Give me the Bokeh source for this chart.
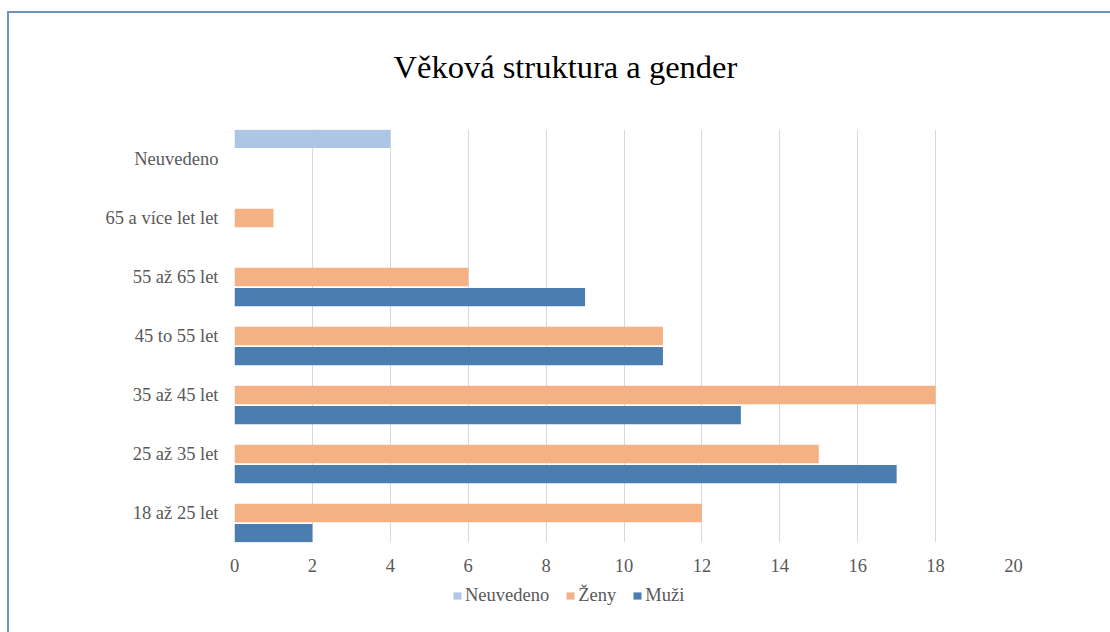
from bokeh.plotting import figure
from bokeh.layouts import column
from bokeh.models import (FactorRange, Range1d, ColumnDataSource, Legend, LegendItem,
                          FixedTicker, Title)
from bokeh.transform import dodge
from bokeh.embed import file_html
from bokeh.resources import INLINE

categories = ["18 až 25 let", "25 až 35 let", "35 až 45 let", "45 to 55 let",
              "55 až 65 let", "65 a více let let", "Neuvedeno"]
neuvedeno = [0, 0, 0, 0, 0, 0, 4]
zeny = [12, 15, 18, 11, 6, 1, 0]
muzi = [2, 17, 13, 11, 9, 0, 0]
series_names = ["Neuvedeno", "Ženy", "Muži"]
x_ticks = [0, 2, 4, 6, 8, 10, 12, 14, 16, 18, 20]
title_text = "Věková struktura a gender"

colors = {"Neuvedeno": "#adc6e5", "Ženy": "#f4b183", "Muži": "#4a7db0"}
offsets = {"Neuvedeno": 0.34, "Ženy": 0.0, "Muži": -0.34}
values = {"Neuvedeno": neuvedeno, "Ženy": zeny, "Muži": muzi}

SERIF = "Liberation Serif"
GRAY = "#595959"
W = 1101


def blank(fig):
    fig.title.visible = False
    fig.outline_line_color = None
    fig.background_fill_color = "white"
    fig.border_fill_color = "white"


sources = {}
for name in series_names:
    cats = [c for c, v in zip(categories, values[name]) if v > 0]
    vals = [v for v in values[name] if v > 0]
    sources[name] = ColumnDataSource(dict(cat=cats, val=vals))

# ---- title strip ----
p0 = figure(width=W, height=110, x_range=Range1d(0, 1), y_range=Range1d(0, 1),
            output_backend="svg", toolbar_location=None,
            x_axis_location=None, y_axis_location=None,
            min_border=0, min_border_left=0, min_border_right=0,
            min_border_top=0, min_border_bottom=0)
blank(p0)
p0.grid.visible = False
t = Title(text=title_text, text_font=SERIF, text_font_size="32.5px",
          text_font_style="normal", text_color="black", align="left",
          offset=159, standoff=66)
p0.add_layout(t, "above")

# ---- main chart ----
p = figure(width=W, height=457, y_range=FactorRange(factors=categories),
           x_range=Range1d(0, 20), output_backend="svg", toolbar_location=None,
           min_border_left=225, min_border_right=97, min_border_top=6,
           min_border_bottom=38)
blank(p)

for name in series_names:
    p.hbar(y=dodge("cat", offsets[name], range=p.y_range), right="val", left=0,
           height=0.31, source=sources[name], fill_color=colors[name],
           line_color=None)

p.xaxis.ticker = FixedTicker(ticks=x_ticks)
for ax in (p.xaxis[0], p.yaxis[0]):
    ax.axis_line_color = None
    ax.major_tick_line_color = None
    ax.minor_tick_line_color = None
    ax.major_tick_out = 0
    ax.major_tick_in = 0
    ax.major_label_text_font = SERIF
    ax.major_label_text_font_size = "18.5px"
    ax.major_label_text_color = GRAY
p.xaxis.major_label_standoff = 16
p.yaxis.major_label_standoff = 16
p.ygrid.grid_line_color = None
p.xgrid.grid_line_color = "#d9d9d9"
p.xgrid.grid_line_width = 1

# ---- legend strip (same series as zero-height bars outside its window) ----
p2 = figure(width=W, height=52, x_range=Range1d(-40, -20),
            y_range=FactorRange(factors=categories),
            output_backend="svg", toolbar_location=None,
            x_axis_location=None, y_axis_location=None,
            min_border=0, min_border_left=0, min_border_right=0,
            min_border_top=0, min_border_bottom=0)
blank(p2)
p2.grid.visible = False

items = []
for name in series_names:
    r = p2.hbar(y=dodge("cat", offsets[name], range=p2.y_range), right="val", left=0,
                height=0, source=sources[name], fill_color=colors[name],
                line_color=None)
    items.append(LegendItem(label=name, renderers=[r]))

legend = Legend(items=items, orientation="horizontal", location=(218, 26),
                glyph_width=10, glyph_height=9, label_standoff=3, spacing=16,
                padding=0, margin=0, border_line_color=None,
                background_fill_alpha=0, label_text_font=SERIF,
                label_text_font_size="18.5px", label_text_color=GRAY)
p2.add_layout(legend, "center")

layout = column(p0, p, p2, spacing=0)
layout.styles = {"border-top": "2px solid #6f93b8", "border-left": "2px solid #6f93b8",
                 "margin-top": "11px", "margin-left": "7px"}

open("out.html", "w").write(file_html(layout, INLINE))
